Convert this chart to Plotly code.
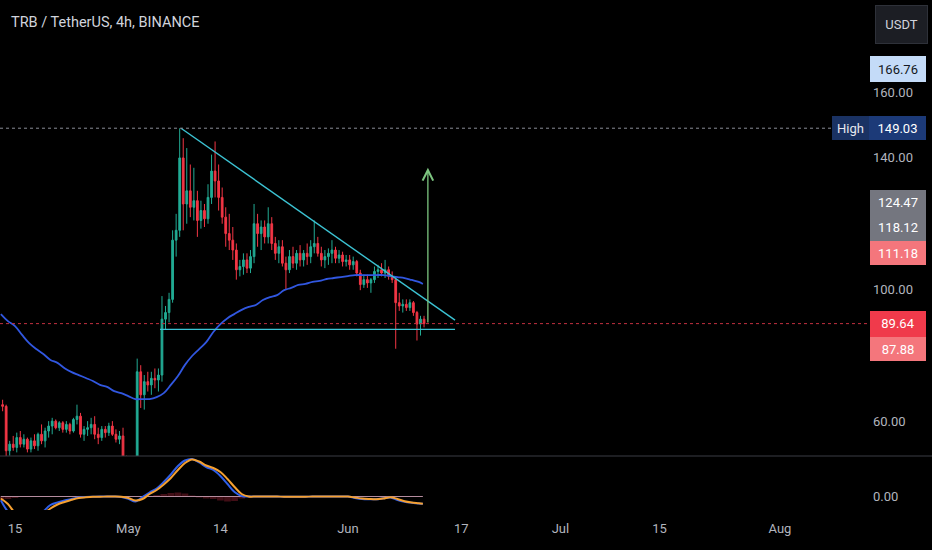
import pandas as pd
import plotly.graph_objects as go

#---------------------------------------------------------------
# DATA (12h bars, prices in USDT)

title_text = "TRB / TetherUS, 4h, BINANCE"

candle_time = pd.date_range("2024-04-13 06:00", periods=120, freq="12h")

open_ = [65, 64.5, 51, 53, 52, 55, 53, 54.5, 51.5, 54,
         52.5, 56, 54, 57, 58.5, 60, 58, 59.5, 57.5, 59,
         57, 60.5, 61.5, 56, 57.5, 58, 59, 56, 55, 57.5,
         56.5, 58.5, 56, 54.5, 55.5, 49, 47, 46.5, 47.5, 75,
         68, 72, 71, 73, 72.5, 74, 91, 93, 97, 115,
         118, 140, 126, 130, 125, 127, 121, 124, 121.5, 128,
         136, 133, 128, 122, 117, 115, 112, 106, 107, 109,
         106.5, 110, 120, 117, 119, 116, 120, 114, 111, 113,
         108, 106, 110, 108, 111, 109, 111, 110, 113, 114,
         111, 109, 110, 111, 112, 109.5, 110.5, 108.5, 109, 107.5,
         108.5, 105, 101.5, 103, 102, 103, 105.5, 106, 105, 106,
         104, 103, 96, 95, 95.5, 94.5, 96, 93, 89.5, 91]
high_ = [66.5, 65, 54, 55.5, 56.5, 57, 56, 55, 55, 56,
         56.5, 59, 58, 60, 61, 60.5, 60, 60, 60, 59.5,
         61, 65, 62.5, 58.5, 60, 61, 61.5, 58, 58.5, 58.5,
         59.5, 60, 57.5, 57, 58, 49.5, 48.5, 48, 79, 77,
         74, 75, 75, 76, 76, 98, 95, 99, 118, 123,
         149.03, 146, 143, 138, 137, 130, 127, 126, 132, 141,
         145, 138, 131, 125, 123, 119, 114, 109, 111, 111,
         112, 126, 123, 121, 121, 125, 122, 116, 115, 115,
         110, 112, 113, 112, 113.5, 112, 114, 115, 121, 116,
         113, 112, 112.5, 115, 113, 112, 111.5, 110.5, 110.5, 110,
         109, 106, 104.5, 104.5, 103.5, 107, 107.5, 108, 109, 107,
         105.5, 104, 99, 97, 97, 97, 96.5, 93.5, 92, 92]
low_ = [63, 47, 49.5, 51, 50.5, 52, 52, 50.5, 50.5, 51.5,
        51, 53, 52, 55, 56, 57.5, 57, 56.5, 56.5, 56,
        56.5, 59, 55, 54, 55.5, 56, 54.5, 53, 54, 55,
        55.5, 55.5, 53.5, 53, 48, 46, 45.5, 45, 47, 64,
        63.5, 69, 68, 70, 69, 72, 88, 90, 96, 110,
        116, 118, 120, 122, 121, 116, 118.5, 119, 120, 126,
        128, 124, 120, 113, 112, 109, 103, 104, 104.5, 105,
        105, 108, 113, 112, 114, 114, 112, 109, 108, 107,
        99.8, 105, 106.5, 106, 107, 107, 107.5, 108, 111, 110,
        107, 106.5, 107.5, 108, 108, 108, 107, 107, 106, 106,
        104, 99.8, 100.5, 100.5, 99, 102, 103.5, 104, 103.5, 103,
        102, 82, 93.5, 93, 93.5, 93.5, 92, 84.5, 86, 88.5]
close_ = [64.5, 51, 53, 52, 55, 53, 54.5, 51.5, 54, 52.5,
          56, 54, 57, 58.5, 60, 58, 59.5, 57.5, 59, 57,
          60.5, 61.5, 56, 57.5, 58, 59, 56, 55, 57.5, 56.5,
          58.5, 56, 54.5, 55.5, 49, 47, 46.5, 47.5, 75, 68,
          72, 71, 73, 72.5, 74, 91, 93, 97, 115, 118,
          140, 126, 130, 125, 127, 121, 124, 121.5, 128, 136,
          133, 128, 122, 117, 115, 112, 106, 107, 109, 106.5,
          110, 120, 117, 119, 116, 120, 114, 111, 113, 108,
          106, 110, 108, 111, 109, 111, 110, 113, 114, 111,
          109, 110, 111, 112, 109.5, 110.5, 108.5, 109, 107.5, 108.5,
          105, 101.5, 103, 102, 103, 105.5, 106, 105, 106, 104,
          103, 96, 95, 95.5, 94.5, 96, 93, 89.5, 91, 89.64]

# daily samples of the moving average and of the oscillator pane
day_time = list(pd.date_range("2024-04-13", "2024-06-11", freq="D")) + [pd.Timestamp("2024-06-11 14:00")]

ma_vals = [92.5, 90.4, 88.9, 86.2, 83.7, 81.9, 80.4, 78.6, 77.7, 76.1,
           74.9, 74.0, 73.1, 72.2, 71.0, 70.4, 69.1, 68.5,
           67.6, 66.7, 66.7, 66.7, 67.3, 68.5, 71.0, 73.7, 77.1, 79.8,
           81.9, 84.0, 87.1, 89.5, 91.3, 92.6, 93.8, 94.7, 95.3, 96.8,
           97.7, 98.3, 99.8, 100.5, 101.4, 101.7, 102.3, 102.6, 103.2, 103.5, 103.8,
           104.1, 104.4, 104.4, 104.4, 104.4, 104.4, 104.1, 103.8, 103.5, 102.9, 102.3,
           101.7]

osc_orange = [-0.8, -3.0, -6.5, -8, -8.5, -8, -7, -4.8, -3.2, -2.2,
              -1.3, -0.6, -0.3, -0.1, -0.1, 0, 0, -0.1,
              -0.6, -1.6, -1.0, 1.0, 2.6, 4.8, 7.4, 10.6, 13.4, 14.8,
              14.0, 12.4, 11.4, 9.8, 7.0, 3.8, 1.0, 0, 0, 0,
              0, 0, -0.1, -0.1, -0.1, -0.1, 0, 0, 0, 0, 0,
              0, -0.4, -0.8, -1.0, -1.1, -0.8, -0.3, -1.0, -1.9, -2.4, -2.7,
              -2.9]
osc_blue = [-1.5, -6, -8, -9, -9, -8.5, -6, -3.4, -2.4, -1.6,
            -1.0, -0.4, -0.2, -0.1, 0, 0, 0, -0.2,
            -0.9, -2.0, -0.2, 1.6, 3.2, 5.8, 8.8, 12.2, 14.4, 15.0,
            13.6, 11.8, 10.6, 8.2, 5.0, 1.8, 0.2, 0, 0, 0,
            0, 0, -0.1, -0.1, -0.1, -0.1, 0, 0, 0, 0, 0,
            0, -0.6, -1.0, -1.1, -1.1, -0.7, -0.4, -1.4, -2.1, -2.5, -2.8,
            -2.9]

hist_time = ["2024-04-13", "2024-04-14", "2024-04-15", "2024-05-05", "2024-05-06",
             "2024-05-07", "2024-05-08", "2024-05-09", "2024-05-10", "2024-05-11",
             "2024-05-12", "2024-05-13", "2024-05-14", "2024-05-15", "2024-05-16",
             "2024-05-17"]
hist_vals = [-1.2, -1.0, -0.6, 0.6, 1.0, 1.4, 1.6, 1.2, 0.4, -0.4,
             -0.8, -1.0, -1.6, -2.0, -1.8, -0.8]

osc_base_t = ["2024-04-13", "2024-06-11 14:00"]
osc_base_v = [0, 0]

# drawings
trend_top_t = ["2024-05-08 10:30", "2024-06-16 03:00"]
trend_top_p = [149.03, 90.7]
trend_base_t = ["2024-05-05 11:20", "2024-06-16 03:00"]
trend_base_p = [87.88, 87.88]
arrow_t = "2024-06-12 07:00"
arrow_p = [89.5, 137.0]

high_price = 149.03
last_price = 89.64
price_ticks = [60, 100, 140, 160]   # 80 / 120 / 180 sit under the tags

tick_dates = ["2024-04-15", "2024-05-01", "2024-05-14", "2024-06-01",
              "2024-06-17", "2024-07-01", "2024-07-15", "2024-08-01"]
tick_text = ["15", "May", "14", "Jun", "17", "Jul", "15", "Aug"]

#---------------------------------------------------------------
# LAYOUT HELPERS (pixel -> paper)

FONT = "Roboto"
PLOT_W, PLOT_H = 862, 510

def px(x):
    return x / PLOT_W

def py(y):
    return 1 - y / PLOT_H

#---------------------------------------------------------------
# PLOT

fig = go.Figure()

fig.add_trace(go.Candlestick(x=candle_time, open=open_, high=high_, low=low_, close=close_,
                             increasing=dict(line=dict(color='#22ab94', width=1), fillcolor='#22ab94'),
                             decreasing=dict(line=dict(color='#f23645', width=1), fillcolor='#f23645'),
                             whiskerwidth=0, xaxis='x', yaxis='y'))

fig.add_trace(go.Scatter(x=day_time, y=ma_vals, mode='lines', line=dict(color='#3157e0', width=1.8),
                         line_shape='spline', xaxis='x', yaxis='y'))

fig.add_trace(go.Scatter(x=trend_top_t, y=trend_top_p, mode='lines',
                         line=dict(color='#3cc3d3', width=1.4), xaxis='x', yaxis='y'))
fig.add_trace(go.Scatter(x=trend_base_t, y=trend_base_p, mode='lines',
                         line=dict(color='#3cc3d3', width=1.4), xaxis='x', yaxis='y'))

# oscillator pane
fig.add_trace(go.Bar(x=hist_time, y=hist_vals, marker_color='rgba(120,25,40,0.55)',
                     marker_line_width=0, width=86400000 * 0.95, xaxis='x', yaxis='y2'))
fig.add_trace(go.Scatter(x=osc_base_t, y=osc_base_v, mode='lines',
                         line=dict(color='#b48c9e', width=1), xaxis='x', yaxis='y2'))
fig.add_trace(go.Scatter(x=day_time, y=osc_blue, mode='lines', line_shape='spline',
                         line=dict(color='#2f5fe8', width=2), xaxis='x', yaxis='y2'))
fig.add_trace(go.Scatter(x=day_time, y=osc_orange, mode='lines', line_shape='spline',
                         line=dict(color='#f5a030', width=2), xaxis='x', yaxis='y2'))

# dotted high / last price lines
fig.add_shape(type='line', xref='paper', yref='y', x0=0, x1=px(832), y0=high_price, y1=high_price,
              line=dict(color='#8a8d96', width=1, dash='dot'))
fig.add_shape(type='line', xref='paper', yref='y', x0=0, x1=px(870), y0=last_price, y1=last_price,
              line=dict(color='#c2303f', width=1, dash='dot'))

# pane separator
fig.add_shape(type='line', xref='paper', yref='paper', x0=0, x1=px(932), y0=py(456), y1=py(456),
              line=dict(color='#3a3d45', width=1))

# target arrow
fig.add_annotation(x=arrow_t, y=arrow_p[1], ax=arrow_t, ay=arrow_p[0], xref='x', yref='y',
                   axref='x', ayref='y', showarrow=True, arrowhead=5, arrowsize=1.6,
                   arrowwidth=1.3, arrowcolor='#7cc47f', text='')

# title
fig.add_annotation(x=px(9), y=py(23), xref='paper', yref='paper', text=title_text,
                   showarrow=False, xanchor='left', yanchor='middle',
                   font=dict(family=FONT, size=14.5, color='#d1d4dc'))

def tag(text, xc, yc, w, h, bg, fg, border=None):
    fig.add_annotation(x=px(xc), y=py(yc), xref='paper', yref='paper', text=text,
                       showarrow=False, xanchor='center', yanchor='middle',
                       width=w, height=h, bgcolor=bg, borderpad=0,
                       bordercolor=border or bg, borderwidth=1 if border else 0,
                       font=dict(family=FONT, size=13, color=fg))

tag("USDT", 901.5, 24.5, 51, 37, '#1c1e24', '#d1d4dc', border='#2e3139')
tag("%.2f" % 166.76, 898, 69, 56, 26, '#c4dbf8', '#131722')
tag("High", 850.5, 128, 37, 24, '#1a3263', '#e6e8ee')
tag("%.2f" % high_price, 897.5, 128, 57, 24, '#1c3a78', '#ffffff')
tag("%.2f" % 124.47, 898, 203, 56, 25.5, '#74767f', '#ffffff')
tag("%.2f" % 118.12, 898, 228.5, 56, 25.5, '#74767f', '#ffffff')
tag("%.2f" % 111.18, 898, 253, 56, 24, '#f4767c', '#ffffff')
tag("%.2f" % last_price, 898, 324.2, 56, 25.5, '#f03a4b', '#ffffff')
tag("%.2f" % 87.88, 898, 349, 56, 24, '#f4767c', '#ffffff')

fig.update_layout(
    width=932, height=550,
    paper_bgcolor='#000000', plot_bgcolor='#000000',
    margin=dict(l=0, r=70, t=0, b=40),
    showlegend=False, hovermode=False,
    font=dict(family=FONT, size=13, color='#b2b5be'),
    xaxis=dict(type='date', range=["2024-04-12 21:10", "2024-08-12 14:00"],
               tickvals=tick_dates, ticktext=tick_text, showgrid=False, zeroline=False,
               showline=False, anchor='y2', rangeslider=dict(visible=False),
               ticks='outside', ticklen=6, tickcolor='rgba(0,0,0,0)',
               tickfont=dict(family=FONT, size=13, color='#b2b5be')),
    yaxis=dict(domain=[py(456), 1], range=[49.4, 188.0], side='right', anchor='x',
               tickvals=price_ticks, tickformat='.2f', showgrid=False, zeroline=False,
               showline=False, ticklabelstandoff=10,
               tickfont=dict(family=FONT, size=13, color='#b2b5be')),
    yaxis2=dict(domain=[0, py(457)], range=[-5.4, 15.8], side='right', anchor='x',
                tickvals=[0], tickformat='.2f', showgrid=False, zeroline=False,
                showline=False, ticklabelstandoff=10,
                tickfont=dict(family=FONT, size=13, color='#b2b5be')),
)

# drop the page's default body margin so the 932x550 figure fills the window
fig.write_html("out.html", config={'displayModeBar': False},
               post_script="document.body.style.margin='0';document.body.style.background='#000';")
